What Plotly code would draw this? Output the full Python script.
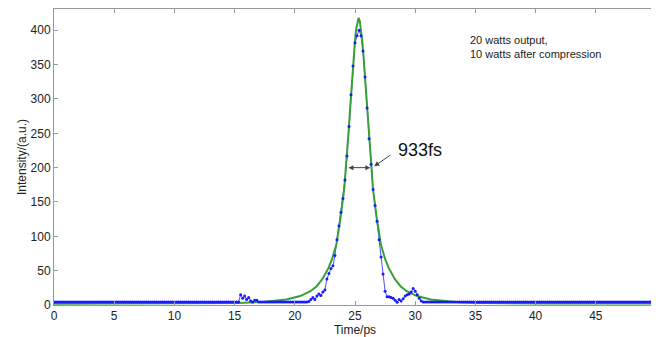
import plotly.graph_objects as go

# ---- measured (blue) trace: sampled every 1/6 ps from 0 to 50 ps, one row per ps ----
blue_start = 0.0
blue_step = 1.0 / 6.0
blue_i = [
    4.5, 4.5, 4.5, 4.5, 4.5, 4.5,   # 0
    4.5, 4.5, 4.5, 4.5, 4.5, 4.5,   # 1
    4.5, 4.5, 4.5, 4.5, 4.5, 4.5,   # 2
    4.5, 4.5, 4.5, 4.5, 4.5, 4.5,   # 3
    4.5, 4.5, 4.5, 4.5, 4.5, 4.5,   # 4
    4.5, 4.5, 4.5, 4.5, 4.5, 4.5,   # 5
    4.5, 4.5, 4.5, 4.5, 4.5, 4.5,   # 6
    4.5, 4.5, 4.5, 4.5, 4.5, 4.5,   # 7
    4.5, 4.5, 4.5, 4.5, 4.5, 4.5,   # 8
    4.5, 4.5, 4.5, 4.5, 4.5, 4.5,   # 9
    4.5, 4.5, 4.5, 4.5, 4.5, 4.5,   # 10
    4.5, 4.5, 4.5, 4.5, 4.5, 4.5,   # 11
    4.5, 4.5, 4.5, 4.5, 4.5, 4.5,   # 12
    4.5, 4.5, 4.5, 4.5, 4.5, 4.5,   # 13
    4.5, 4.5, 4.5, 4.5, 4.5, 4.5,   # 14
    4.5, 4.5, 4.5, 15, 10, 13,      # 15
    8, 11, 6, 4.5, 7, 7,            # 16
    4.5, 4.5, 4.5, 4.5, 4.5, 4.5,   # 17
    4.5, 4.5, 4.5, 4.5, 4.5, 4.5,   # 18
    4.5, 4.5, 4.5, 4.5, 4.5, 4.5,   # 19
    4.5, 4.5, 4.5, 4.5, 4.5, 4.5,   # 20
    4.5, 5, 8, 11, 8, 13,           # 21
    16, 14, 19, 22, 38, 46,         # 22
    53, 57, 72, 95, 115, 135,       # 23
    155, 182, 217, 260, 306, 348,   # 24
    382, 392, 400, 392, 370, 332,   # 25
    287, 242, 205, 168, 145, 122,   # 26
    95, 70, 45, 20, 12, 12,         # 27
    11, 10, 7, 4, 8, 6,             # 28
    9, 13, 15, 16, 19, 24,          # 29
    20, 15, 10, 6, 4.5, 4.5,        # 30
    4.5, 4.5, 4.5, 4.5, 4.5, 4.5,   # 31
    4.5, 4.5, 4.5, 4.5, 4.5, 4.5,   # 32
    4.5, 4.5, 4.5, 4.5, 4.5, 4.5,   # 33
    4.5, 4.5, 4.5, 4.5, 4.5, 4.5,   # 34
    4.5, 4.5, 4.5, 4.5, 4.5, 4.5,   # 35
    4.5, 4.5, 4.5, 4.5, 4.5, 4.5,   # 36
    4.5, 4.5, 4.5, 4.5, 4.5, 4.5,   # 37
    4.5, 4.5, 4.5, 4.5, 4.5, 4.5,   # 38
    4.5, 4.5, 4.5, 4.5, 4.5, 4.5,   # 39
    4.5, 4.5, 4.5, 4.5, 4.5, 4.5,   # 40
    4.5, 4.5, 4.5, 4.5, 4.5, 4.5,   # 41
    4.5, 4.5, 4.5, 4.5, 4.5, 4.5,   # 42
    4.5, 4.5, 4.5, 4.5, 4.5, 4.5,   # 43
    4.5, 4.5, 4.5, 4.5, 4.5, 4.5,   # 44
    4.5, 4.5, 4.5, 4.5, 4.5, 4.5,   # 45
    4.5, 4.5, 4.5, 4.5, 4.5, 4.5,   # 46
    4.5, 4.5, 4.5, 4.5, 4.5, 4.5,   # 47
    4.5, 4.5, 4.5, 4.5, 4.5, 4.5,   # 48
    4.5, 4.5, 4.5, 4.5, 4.5, 4.5,   # 49
    4.5,                            # 50
]
blue_t = [blue_start + k * blue_step for k in range(len(blue_i))]

# ---- fitted (green) curve ----
green_t = [0, 10.3, 15.3, 17.3, 18.3, 19.3, 20.45, 21.3, 21.8, 22.3,
           22.8, 23.1, 23.45, 23.8, 24.1, 24.3, 24.4, 24.5, 24.6, 24.7,
           24.8, 24.9, 25.0, 25.1, 25.2, 25.3,
           25.4, 25.5, 25.6, 25.7, 25.8, 25.9, 26.0, 26.1, 26.2, 26.3,
           26.5, 26.8, 27.15, 27.5, 27.8, 28.3, 28.8, 29.3, 30.15, 31.3,
           32.3, 33.3, 35.3, 40.3, 50]
green_i = [2, 2.2, 3, 4.5, 6, 8, 13, 20, 27, 38,
           54, 67, 88, 127, 168, 210, 234, 260, 287, 314,
           340, 364, 385, 402, 413, 418,
           413, 402, 385, 364, 340, 314, 287, 260, 234, 210,
           168, 127, 88, 67, 54, 38, 27, 20, 13, 8,
           6, 4.5, 3, 2.2, 2]

# ---- annotation values ----
fwhm_left, fwhm_right, fwhm_level = 24.33, 26.27, 200
fwhm_label = "933fs"
note_lines = ["20 watts output,", "10 watts after compression"]

FONT = "Liberation Sans, Arial, Helvetica, sans-serif"

fig = go.Figure()
fig.add_trace(go.Scatter(x=blue_t, y=blue_i, mode="lines",
                         line=dict(color="#5050ff", width=1), showlegend=False))
fig.add_trace(go.Scatter(x=green_t, y=green_i, mode="lines",
                         line=dict(color="#36a036", width=2), showlegend=False))
fig.add_trace(go.Scatter(x=blue_t, y=blue_i, mode="markers",
                         marker=dict(color="#1a1aff", size=3), showlegend=False))

# double arrow at FWHM
fig.add_annotation(x=fwhm_right, y=fwhm_level, ax=fwhm_left, ay=fwhm_level,
                   xref="x", yref="y", axref="x", ayref="y", text="",
                   showarrow=True, arrowhead=2, arrowside="end+start",
                   arrowsize=1, arrowwidth=1, arrowcolor="#444")
# pointer arrow from label
fig.add_annotation(x=26.6, y=202, ax=28.07, ay=220,
                   xref="x", yref="y", axref="x", ayref="y", text="",
                   showarrow=True, arrowhead=2, arrowsize=1, arrowwidth=1,
                   arrowcolor="#444")
fig.add_annotation(x=28.4, y=225, xref="x", yref="y", text=fwhm_label,
                   showarrow=False, xanchor="left", yanchor="middle",
                   font=dict(family=FONT, size=18, color="#111"))
fig.add_annotation(x=34.4, y=376, xref="x", yref="y",
                   text="<br>".join(note_lines), align="left",
                   showarrow=False, xanchor="left", yanchor="middle",
                   font=dict(family=FONT, size=11, color="#222"))

axis_common = dict(showline=True, linecolor="#999", linewidth=1, mirror="ticks",
                   ticks="inside", ticklen=4, tickcolor="#999", showgrid=False,
                   zeroline=False, automargin=False,
                   tickfont=dict(family=FONT, size=12, color="#222"))

fig.update_xaxes(range=[0, 50], dtick=5, tick0=0,
                 title=dict(text="Time/ps", standoff=0,
                            font=dict(family=FONT, size=12, color="#222")),
                 **axis_common)
fig.update_yaxes(range=[0, 431], dtick=50, tick0=0,
                 title=dict(text="Intensity/(a.u.)", standoff=1,
                            font=dict(family=FONT, size=12, color="#222")),
                 **axis_common)

# the page body adds an 8px offset, so the figure is sized to fill the rest of the window
fig.update_layout(width=651, height=329,
                  margin=dict(l=46, r=3, t=1, b=32, autoexpand=False),
                  plot_bgcolor="white", paper_bgcolor="white",
                  font=dict(family=FONT))

fig.write_html("out.html")
